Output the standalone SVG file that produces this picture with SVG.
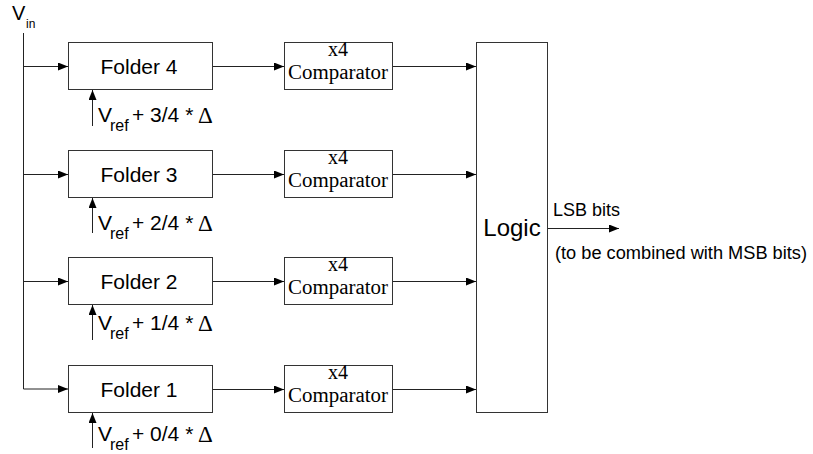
<svg xmlns="http://www.w3.org/2000/svg" width="813" height="454" viewBox="0 0 813 454">
<style>
.box{fill:#fff;stroke:#333;stroke-width:1}
.ln{fill:none;stroke:#222;stroke-width:1}
.sans{font-family:"Liberation Sans",Arial,sans-serif;fill:#000}
.serif{font-family:"Liberation Serif","Times New Roman",serif;fill:#000}
.fl{font-size:21px;text-anchor:middle}
.cmp{font-size:20px;text-anchor:middle}
.vr{font-size:21px}
.sub{font-size:16px}
.dl{font-family:"Liberation Serif","Times New Roman",serif;font-size:23px}
</style>
<defs>
<marker id="ah" markerWidth="10" markerHeight="8" refX="10" refY="4" orient="auto" markerUnits="userSpaceOnUse">
<path d="M0,0 L10,4 L0,8 z" fill="#000"/>
</marker>
</defs>
<g id="vin">
<text class="sans" x="12" y="20" font-size="20">V<tspan font-size="12" x="26" y="28">in</tspan></text>
</g>
<g id="connectors">
<path class="ln" d="M23.5,33 V389 H68" stroke-width="2" marker-end="url(#ah)"/>
<path class="ln" d="M23,66.5 H68" marker-end="url(#ah)"/>
<path class="ln" d="M23,174.5 H68" marker-end="url(#ah)"/>
<path class="ln" d="M23,281.5 H68" marker-end="url(#ah)"/>
<path class="ln" d="M212,66.5 H284" marker-end="url(#ah)"/>
<path class="ln" d="M212,174.5 H284" marker-end="url(#ah)"/>
<path class="ln" d="M212,281.5 H284" marker-end="url(#ah)"/>
<path class="ln" d="M212,389.5 H284" marker-end="url(#ah)"/>
<path class="ln" d="M392,66.5 H476" marker-end="url(#ah)"/>
<path class="ln" d="M392,174.5 H476" marker-end="url(#ah)"/>
<path class="ln" d="M392,281.5 H476" marker-end="url(#ah)"/>
<path class="ln" d="M392,389.5 H476" marker-end="url(#ah)"/>
<path class="ln" d="M548,228.5 H619" marker-end="url(#ah)"/>
<path class="ln" d="M92.5,126 V90" stroke-width="1.5" marker-end="url(#ah)"/>
<path class="ln" d="M92.5,233 V198" stroke-width="1.5" marker-end="url(#ah)"/>
<path class="ln" d="M92.5,340 V305" stroke-width="1.5" marker-end="url(#ah)"/>
<path class="ln" d="M92.5,448 V413" stroke-width="1.5" marker-end="url(#ah)"/>
</g>
<g id="folder4">
<rect class="box" x="68.5" y="42.5" width="144" height="47"/>
<text class="sans fl" x="139" y="74">Folder 4</text>
<text class="sans vr" x="98" y="122">V<tspan class="sub" x="110" y="131">ref</tspan><tspan x="132" y="122">+ 3/4 *</tspan><tspan class="dl" x="198" y="123">Δ</tspan></text>
</g>
<g id="folder3">
<rect class="box" x="68.5" y="150.5" width="144" height="47"/>
<text class="sans fl" x="139" y="182">Folder 3</text>
<text class="sans vr" x="98" y="230">V<tspan class="sub" x="110" y="239">ref</tspan><tspan x="132" y="230">+ 2/4 *</tspan><tspan class="dl" x="198" y="231">Δ</tspan></text>
</g>
<g id="folder2">
<rect class="box" x="68.5" y="257.5" width="144" height="47"/>
<text class="sans fl" x="139" y="289">Folder 2</text>
<text class="sans vr" x="98" y="330">V<tspan class="sub" x="110" y="339">ref</tspan><tspan x="132" y="330">+ 1/4 *</tspan><tspan class="dl" x="198" y="331">Δ</tspan></text>
</g>
<g id="folder1">
<rect class="box" x="68.5" y="365.5" width="144" height="47"/>
<text class="sans fl" x="139" y="397">Folder 1</text>
<text class="sans vr" x="98" y="441">V<tspan class="sub" x="110" y="450">ref</tspan><tspan x="132" y="441">+ 0/4 *</tspan><tspan class="dl" x="198" y="442">Δ</tspan></text>
</g>
<g id="comp4">
<rect class="box" x="284.5" y="42.5" width="108" height="47"/>
<text class="serif cmp" x="338" y="56">x4</text>
<text class="serif cmp" x="338" y="79" textLength="100" lengthAdjust="spacingAndGlyphs">Comparator</text>
</g>
<g id="comp3">
<rect class="box" x="284.5" y="150.5" width="108" height="47"/>
<text class="serif cmp" x="338" y="164">x4</text>
<text class="serif cmp" x="338" y="187" textLength="100" lengthAdjust="spacingAndGlyphs">Comparator</text>
</g>
<g id="comp2">
<rect class="box" x="284.5" y="257.5" width="108" height="47"/>
<text class="serif cmp" x="338" y="271">x4</text>
<text class="serif cmp" x="338" y="294" textLength="100" lengthAdjust="spacingAndGlyphs">Comparator</text>
</g>
<g id="comp1">
<rect class="box" x="284.5" y="365.5" width="108" height="47"/>
<text class="serif cmp" x="338" y="379">x4</text>
<text class="serif cmp" x="338" y="402" textLength="100" lengthAdjust="spacingAndGlyphs">Comparator</text>
</g>
<g id="logic">
<rect class="box" x="476.5" y="42.5" width="71" height="370"/>
<text class="sans" x="512" y="236" font-size="24" text-anchor="middle">Logic</text>
</g>
<g id="output">
<text class="sans" x="553" y="216" font-size="18">LSB bits</text>
<text class="sans" x="555" y="259" font-size="18" textLength="252" lengthAdjust="spacingAndGlyphs">(to be combined with MSB bits)</text>
</g>
</svg>
